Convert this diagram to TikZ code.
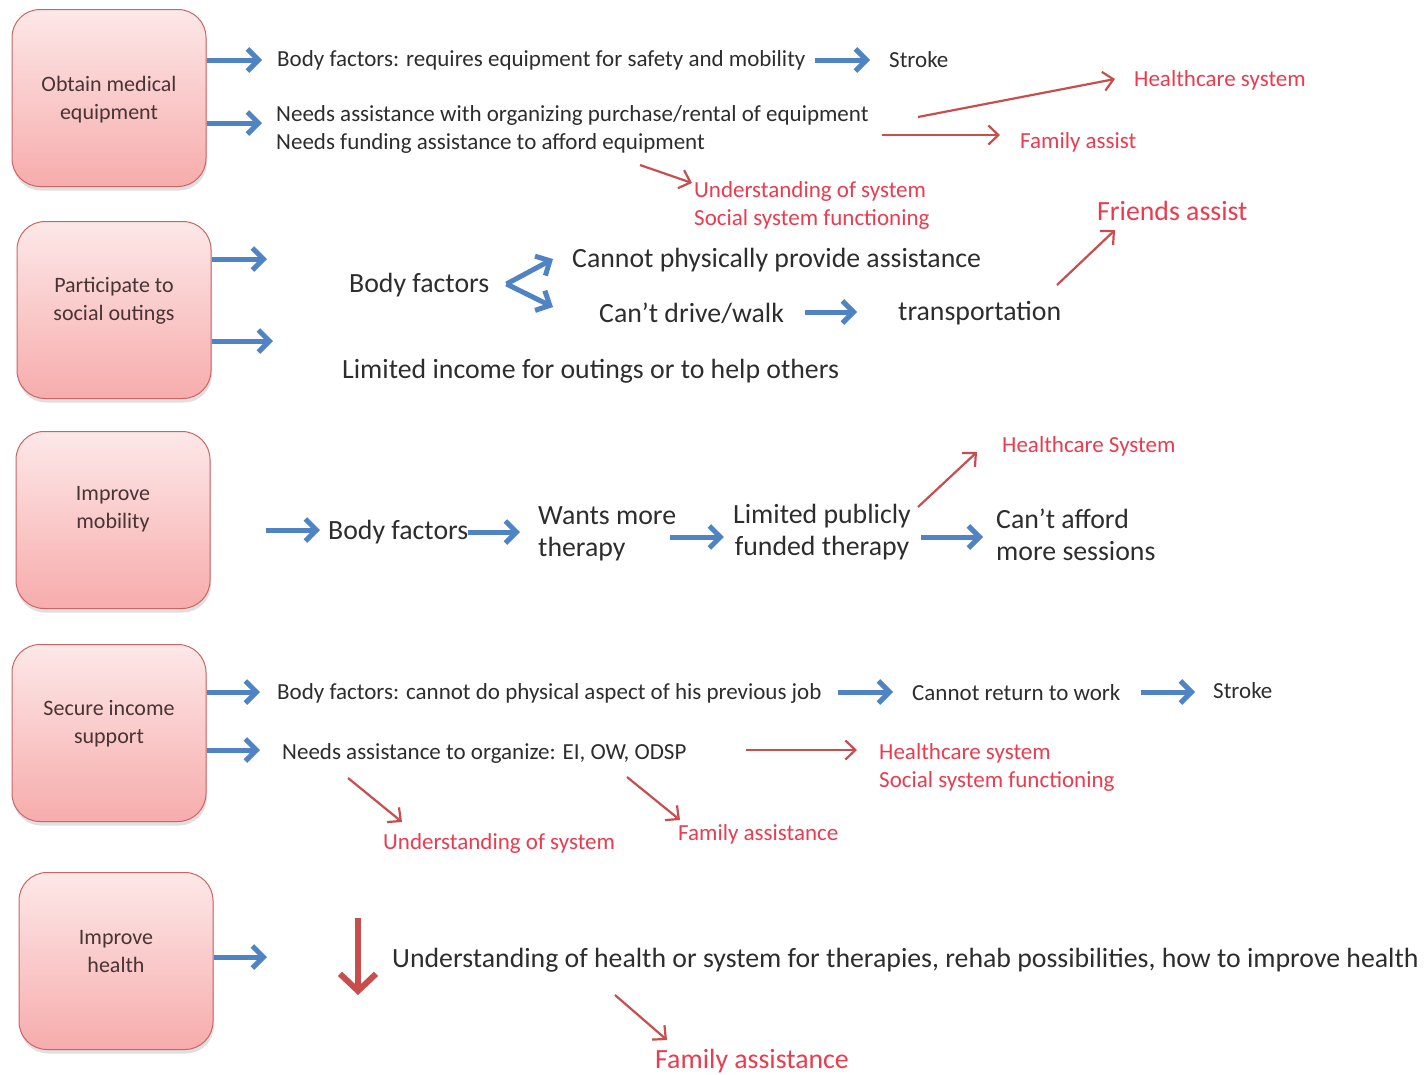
\documentclass[tikz,border=0pt]{standalone}
\usepackage{fontspec}
\setmainfont{Carlito}
\usepackage{xcolor}
\usepackage{tikz}
\usetikzlibrary{arrows.meta, positioning, calc, shadows}
\definecolor{goaltop}{RGB}{253,232,232}
\definecolor{goalbottom}{RGB}{247,172,172}
\definecolor{goaledge}{RGB}{205,100,100}
\definecolor{goalink}{RGB}{72,52,52}
\definecolor{ink}{RGB}{45,45,45}
\definecolor{redink}{RGB}{234,60,78}
\definecolor{arrowblue}{RGB}{79,131,196}
\definecolor{arrowred}{RGB}{200,78,78}
\tikzstyle{goal} = [rectangle, rounded corners=28pt, minimum width=194pt, minimum height=177pt, align=center, text depth=22pt, draw=goaledge, line width=1pt, top color=goaltop, bottom color=goalbottom, text=goalink, font=\fontsize{22}{28}\selectfont, drop shadow={opacity=0.25, shadow xshift=1pt, shadow yshift=-4pt}]
\tikzstyle{txt} = [inner sep=0pt, anchor=west, align=left, text=ink, font=\fontsize{23}{28}\selectfont]
\tikzstyle{bigtxt} = [txt, font=\fontsize{27.8}{32}\selectfont]
\tikzstyle{redtxt} = [txt, text=redink]
\tikzstyle{bigredtxt} = [bigtxt, text=redink]
\tikzstyle{bluearrow} = [line width=5pt, draw=arrowblue, -{Straight Barb[length=11pt, width=22pt]}]
\tikzstyle{redarrow} = [line width=2.2pt, draw=arrowred, -{Straight Barb[length=10pt, width=19pt]}]
\tikzstyle{downarrow} = [line width=6pt, draw=arrowred, -{Straight Barb[length=17pt, width=36pt]}]

\begin{document}
\begin{tikzpicture}[x=1pt, y=-1pt]
    \useasboundingbox (0,0) rectangle (1424,1074);

    % goals
    \node (equip) [goal, text depth=0pt] at (109,98) {Obtain medical\\equipment};
    \node (social) [goal] at (114,310) {Participate to\\social outings};
    \node (mobil) [goal, text depth=26pt] at (113,520) {Improve\\mobility};
    \node (income) [goal] at (109,733) {Secure income\\support};
    \node (health) [goal, text depth=20pt] at (116,961) {Improve\\health};

    % medical equipment
    \node (bf1) [txt] at (277,60) {Body factors: requires equipment for safety and mobility};
    \node (stroke1) [txt] at (889,60) {Stroke};
    \node (needs1) [txt] at (276,129) {Needs assistance with organizing purchase/rental of equipment\\Needs funding assistance to afford equipment};
    \node (hc1) [redtxt] at (1134,80) {Healthcare system};
    \node (fam1) [redtxt] at (1020,142) {Family assist};
    \node (und1) [redtxt] at (694,205) {Understanding of system\\Social system functioning};

    \coordinate (e1) at ($(bf1.west)+(-15,0)$);
    \coordinate (e2) at ($(needs1.west)+(-14,-6)$);
    \draw [bluearrow] (equip.east |- e1) -- (e1);
    \draw [bluearrow] (equip.east |- e2) -- (e2);
    \draw [bluearrow] ($(bf1.east)+(9,0)$) -- ($(stroke1.west)+(-19,0)$);
    \coordinate (t1) at (918,117);
    \coordinate (t2) at (882,135);
    \coordinate (t3) at (640,165);
    \draw [redarrow] (t1) -- ($(hc1.west)+(-19,-1)$);
    \draw [redarrow] (t2) -- ($(fam1.west)+(-20,-7)$);
    \draw [redarrow] (t3) -- ($(und1.west)+(-2,-22)$);

    % social outings
    \node (bf2) [bigtxt] at (349,285) {Body factors};
    \node (cannot) [bigtxt] at (572,260) {Cannot physically provide assistance};
    \node (drive) [bigtxt] at (599,313) {Can’t drive/walk};
    \node (transp) [bigtxt] at (898,313) {transportation};
    \node (friends) [bigredtxt] at (1097,211) {Friends assist};
    \node (limited) [bigtxt] at (342,371) {Limited income for outings or to help others};

    \coordinate (s1) at (267,259);
    \coordinate (s2) at (273,341);
    \draw [bluearrow] (social.east |- s1) -- (s1);
    \draw [bluearrow] (social.east |- s2) -- (s2);
    \coordinate (fork) at ($(bf2.east)+(17,-1)$);
    \draw [bluearrow] (fork) -- ($(cannot.west)+(-19,-1)$);
    \draw [bluearrow] (fork) -- ($(drive.west)+(-46,-6)$);
    \draw [bluearrow] ($(drive.east)+(21,-1)$) -- ($(transp.west)+(-41,-1)$);
    \coordinate (t4) at (1057,285);
    \draw [redarrow] (t4) -- ($(friends.west)+(18,19)$);

    % mobility
    \coordinate (m0) at (266,530);
    \node (bf3) [bigtxt] at (328,532) {Body factors};
    \node (wants) [bigtxt] at (538,534) {Wants more\\therapy};
    \node (publ) [bigtxt, anchor=center, align=center] at (822,532) {Limited publicly\\funded therapy};
    \node (hc3) [redtxt] at (1002,446) {Healthcare System};
    \node (afford) [bigtxt] at (996,535) {Can’t afford\\more sessions};

    \draw [bluearrow] (m0) -- ($(bf3.west)+(-8,-2)$);
    \draw [bluearrow] (bf3.east) -- ($(wants.west)+(-18,-2)$);
    \draw [bluearrow] ($(wants.east)+(-6,3)$) -- ($(publ.west)+(-9,5)$);
    \draw [bluearrow] ($(publ.east)+(10,5)$) -- ($(afford.west)+(-13,2)$);
    \coordinate (t5) at (918,507);
    \draw [redarrow] (t5) -- ($(hc3.west)+(-25,6)$);

    % income support
    \node (bf4) [txt] at (277,693) {Body factors: cannot do physical aspect of his previous job};
    \node (noreturn) [txt] at (912,693) {Cannot return to work};
    \node (stroke4) [txt] at (1213,691) {Stroke};
    \node (needs4) [txt] at (282,753) {Needs assistance to organize: EI, OW, ODSP};
    \node (hc4) [redtxt] at (879,767) {Healthcare system\\Social system functioning};
    \node (und4) [redtxt] at (383,843) {Understanding of system};
    \node (fam4) [redtxt] at (678,834) {Family assistance};

    \coordinate (e3) at ($(bf4.west)+(-17,-1)$);
    \coordinate (e4) at ($(needs4.west)+(-22,-3)$);
    \draw [bluearrow] (income.east |- e3) -- (e3);
    \draw [bluearrow] (income.east |- e4) -- (e4);
    \draw [bluearrow] ($(bf4.east)+(16,-1)$) -- ($(noreturn.west)+(-19,-1)$);
    \draw [bluearrow] ($(noreturn.east)+(20,-1)$) -- ($(stroke4.west)+(-18,1)$);
    \coordinate (t6) at (746,750);
    \coordinate (t7) at (348,778);
    \coordinate (t8) at (627,777);
    \draw [redarrow] (t6) -- ($(hc4.west)+(-22,-17)$);
    \draw [redarrow] (t7) -- ($(und4.west)+(19,-21)$);
    \draw [redarrow] (t8) -- ($(fam4.west)+(2,-14)$);

    % health
    \coordinate (h0) at (267,957);
    \node (underst) [bigtxt] at (392,960) {Understanding of health or system for therapies, rehab possibilities, how to improve health};
    \node (fam5) [bigredtxt] at (655,1061) {Family assistance};

    \draw [bluearrow] (health.east |- h0) -- (h0);
    \draw [downarrow] ($(underst.west)+(-34,-42)$) -- ($(underst.west)+(-34,35)$);
    \coordinate (t9) at (615,995);
    \draw [redarrow] (t9) -- ($(fam5.west)+(12,-21)$);
\end{tikzpicture}
\end{document}
